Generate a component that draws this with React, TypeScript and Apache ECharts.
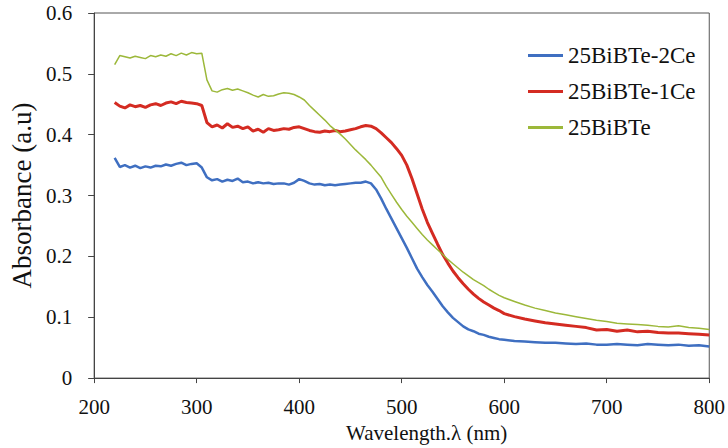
import React, { useEffect, useRef } from "react";
import * as echarts from "echarts";

const wavelengths = [
  220, 225, 230, 235, 240, 245, 250, 255, 260, 265, 270, 275, 280, 285, 290, 295, 300, 305, 310, 315,
  320, 325, 330, 335, 340, 345, 350, 355, 360, 365, 370, 375, 380, 385, 390, 395, 400, 405, 410, 415,
  420, 425, 430, 435, 440, 445, 450, 455, 460, 465, 470, 475, 480, 485, 490, 495, 500, 505, 510, 515,
  520, 525, 530, 535, 540, 545, 550, 555, 560, 565, 570, 575, 580, 585, 590, 595, 600,
  610, 620, 630, 640, 650, 660, 670, 680, 690, 700, 710, 720, 730, 740, 750, 760, 770, 780, 790, 800,
];

const bibte2Ce = [
  0.362, 0.347, 0.350, 0.346, 0.349, 0.345, 0.348, 0.346, 0.349, 0.348, 0.351, 0.349, 0.352, 0.354, 0.350, 0.352, 0.353, 0.346, 0.330, 0.325,
  0.327, 0.323, 0.326, 0.324, 0.328, 0.322, 0.323, 0.320, 0.322, 0.320, 0.321, 0.319, 0.320, 0.320, 0.318, 0.321, 0.327, 0.324, 0.320, 0.318,
  0.319, 0.317, 0.318, 0.317, 0.318, 0.319, 0.320, 0.321, 0.321, 0.323, 0.320, 0.310, 0.295, 0.278, 0.262, 0.246, 0.230, 0.214, 0.197, 0.180,
  0.166, 0.153, 0.142, 0.130, 0.118, 0.108, 0.099, 0.092, 0.085, 0.080, 0.077, 0.073, 0.071, 0.068, 0.066, 0.064, 0.063,
  0.061, 0.060, 0.059, 0.058, 0.058, 0.057, 0.056, 0.057, 0.055, 0.055, 0.056, 0.055, 0.054, 0.056, 0.055, 0.054, 0.055, 0.053, 0.054, 0.052,
];

const bibte1Ce = [
  0.453, 0.447, 0.444, 0.449, 0.446, 0.448, 0.445, 0.449, 0.451, 0.448, 0.452, 0.454, 0.451, 0.455, 0.453, 0.452, 0.451, 0.448, 0.420, 0.413,
  0.416, 0.411, 0.418, 0.412, 0.414, 0.410, 0.413, 0.406, 0.409, 0.404, 0.410, 0.407, 0.408, 0.410, 0.409, 0.412, 0.413, 0.410, 0.407, 0.405,
  0.404, 0.406, 0.405, 0.407, 0.405, 0.406, 0.408, 0.410, 0.413, 0.415, 0.414, 0.410, 0.403, 0.395, 0.387, 0.377, 0.366, 0.350, 0.328, 0.303,
  0.278, 0.256, 0.238, 0.220, 0.203, 0.189, 0.176, 0.165, 0.155, 0.146, 0.138, 0.131, 0.125, 0.120, 0.115, 0.111, 0.106,
  0.101, 0.097, 0.094, 0.091, 0.089, 0.087, 0.085, 0.083, 0.079, 0.080, 0.077, 0.079, 0.076, 0.077, 0.075, 0.074, 0.074, 0.073, 0.072, 0.071,
];

const bibte = [
  0.515, 0.530, 0.528, 0.526, 0.529, 0.527, 0.525, 0.530, 0.528, 0.531, 0.529, 0.533, 0.530, 0.534, 0.531, 0.535, 0.533, 0.534, 0.490, 0.472,
  0.470, 0.474, 0.476, 0.473, 0.475, 0.472, 0.469, 0.465, 0.462, 0.466, 0.463, 0.464, 0.467, 0.469, 0.468, 0.466, 0.462, 0.457, 0.448, 0.440,
  0.432, 0.424, 0.415, 0.408, 0.401, 0.393, 0.384, 0.375, 0.367, 0.359, 0.350, 0.340, 0.330, 0.315, 0.302, 0.289, 0.277, 0.266, 0.256, 0.246,
  0.236, 0.227, 0.219, 0.211, 0.203, 0.195, 0.188, 0.181, 0.174, 0.168, 0.162, 0.157, 0.152, 0.146, 0.141, 0.136, 0.132,
  0.126, 0.120, 0.115, 0.111, 0.107, 0.104, 0.101, 0.098, 0.095, 0.093, 0.090, 0.089, 0.088, 0.087, 0.085, 0.084, 0.086, 0.083, 0.082, 0.080,
];

const seriesNames = ["25BiBTe-2Ce", "25BiBTe-1Ce", "25BiBTe"];
const seriesColors = ["#3F6FC1", "#D42B22", "#9CB83A"];
const seriesWidths = [2.5, 3, 1.5];
const seriesValues = [bibte2Ce, bibte1Ce, bibte];

const FONT = "Liberation Serif, serif";

export default function App() {
  const ref = useRef<HTMLDivElement>(null);
  useEffect(() => {
    if (!ref.current) return;
    const chart = echarts.init(ref.current, null, { renderer: "svg" });
    chart.setOption({
      animation: false,
      backgroundColor: "#ffffff",
      textStyle: { fontFamily: FONT },
      grid: {
        left: 88,
        right: 17,
        top: 13,
        bottom: 66,
        show: true,
        borderColor: "#555",
        borderWidth: 1,
      },
      legend: {
        orient: "vertical",
        left: 523,
        top: 39,
        icon: "rect",
        itemWidth: 35,
        itemHeight: 3,
        itemGap: 13,
        textStyle: { fontFamily: FONT, fontSize: 23, lineHeight: 23, color: "#111" },
        data: seriesNames,
      },
      xAxis: {
        type: "value",
        min: 200,
        max: 800,
        interval: 100,
        name: "Wavelength.λ (nm)",
        nameLocation: "middle",
        nameGap: 42,
        nameTextStyle: { fontFamily: FONT, fontSize: 21, color: "#111", padding: [0, 0, 0, 50] },
        axisLine: { lineStyle: { color: "#444", width: 1 } },
        axisTick: { show: true, length: 5, inside: false, lineStyle: { color: "#444" } },
        axisLabel: { fontFamily: FONT, fontSize: 21, color: "#111", margin: 18 },
        splitLine: { show: false },
      },
      yAxis: {
        type: "value",
        min: 0,
        max: 0.6,
        interval: 0.1,
        name: "Absorbance (a.u)",
        nameLocation: "middle",
        nameGap: 55,
        nameTextStyle: { fontFamily: FONT, fontSize: 27, color: "#111" },
        axisLine: { show: true, lineStyle: { color: "#444", width: 1 } },
        axisTick: { show: true, length: 6, inside: false, lineStyle: { color: "#444" } },
        axisLabel: { fontFamily: FONT, fontSize: 21, color: "#111", margin: 22 },
        splitLine: { show: false },
      },
      series: seriesNames.map((name, i) => ({
        name,
        type: "line",
        showSymbol: false,
        symbol: "none",
        data: wavelengths.map((w, j) => [w, seriesValues[i][j]]),
        lineStyle: { color: seriesColors[i], width: seriesWidths[i] },
        itemStyle: { color: seriesColors[i] },
      })),
    });
    return () => chart.dispose();
  }, []);
  return <div ref={ref} style={{ width: 728, height: 448, position: "fixed", left: 0, top: 0 }} />;
}
